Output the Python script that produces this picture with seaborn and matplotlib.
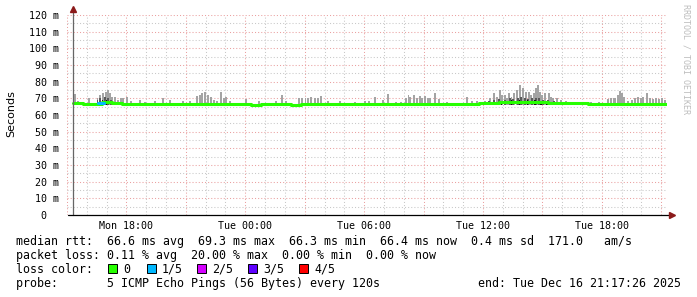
import numpy as np
import matplotlib
matplotlib.use("Agg")
import matplotlib.pyplot as plt
import seaborn as sns
from matplotlib.patches import Rectangle

# ---------------- data (hours since Mon 00:00) ----------------
t_start, t_end = 15.29, 45.29
median_hours = np.arange(15.29, 45.30, 0.5)
median_ms = [67.0, 66.6, 66.7, 67.8, 66.9, 66.5, 66.5, 66.4, 66.6, 66.5,
             66.6, 66.7, 66.6, 66.7, 66.6, 66.8, 66.6, 66.5, 66.3, 66.6,
             66.7, 66.6, 66.3, 66.6, 66.7, 66.6, 66.5, 66.6, 66.5, 66.6,
             66.5, 66.6, 66.5, 66.6, 66.7, 66.6, 66.7, 66.5, 66.6, 66.5,
             66.6, 66.9, 67.3, 67.6, 67.8, 67.7, 67.9, 67.6, 67.5, 67.2,
             67.0, 66.9, 66.8, 66.6, 66.5, 66.4, 66.5, 66.4, 66.5, 66.4, 66.4]

loss_hours = [16.55, 16.85]
loss_ms = [67.2, 67.2]

spike_hours = [15.39, 15.54, 16.09, 16.54, 16.69, 16.84, 16.99, 17.09, 17.19, 17.29,
               17.44, 17.59, 17.74, 17.84, 18.04, 18.24, 18.69, 18.94, 19.44, 19.84,
               20.19, 20.84, 21.19, 21.54, 21.69, 21.84, 21.99, 22.14, 22.29, 22.44,
               22.59, 22.79, 22.94, 23.04, 23.24, 24.04, 24.69, 25.54, 25.84, 26.04,
               26.69, 26.84, 27.04, 27.19, 27.34, 27.54, 27.69, 27.84, 28.19, 28.79,
               29.54, 30.04, 30.24, 30.54, 30.94, 31.19, 31.59, 31.84, 32.09, 32.24,
               32.34, 32.54, 32.69, 32.84, 32.94, 33.09, 33.24, 33.34, 33.59, 33.79,
               34.19, 35.19, 35.44, 35.69, 36.09, 36.34, 36.54, 36.69, 36.84, 36.94,
               37.09, 37.19, 37.29, 37.44, 37.59, 37.74, 37.89, 38.04, 38.19, 38.34,
               38.44, 38.59, 38.69, 38.79, 38.89, 38.99, 39.14, 39.34, 39.44, 39.54,
               39.74, 39.94, 40.19, 40.54, 40.94, 41.44, 41.84, 42.29, 42.44, 42.59,
               42.69, 42.84, 42.94, 43.04, 43.14, 43.34, 43.54, 43.69, 43.84, 43.99,
               44.09, 44.29, 44.44, 44.59, 44.74, 44.89, 45.04, 45.19]
spike_ms = [72.4, 68.5, 70.0, 70.5, 72.0, 73.0, 74.0, 75.0, 73.0, 71.0,
            71.0, 69.0, 70.0, 70.0, 71.0, 68.5, 69.0, 68.0, 68.5, 70.0,
            69.0, 68.5, 68.3, 71.5, 72.0, 73.0, 74.0, 72.0, 71.0, 69.0,
            68.5, 74.0, 70.0, 71.0, 68.5, 69.6, 68.5, 68.5, 72.0, 68.5,
            70.0, 70.0, 70.5, 70.5, 71.0, 70.0, 70.5, 71.5, 68.5, 68.5,
            68.0, 68.5, 68.5, 70.6, 69.0, 72.6, 68.0, 68.0, 70.0, 72.0,
            71.0, 72.0, 70.5, 71.5, 70.0, 71.4, 70.0, 70.5, 73.0, 69.5,
            68.0, 70.6, 68.5, 68.5, 68.5, 70.5, 73.0, 71.0, 75.0, 72.0,
            72.0, 70.0, 73.0, 71.0, 73.0, 75.0, 78.0, 76.0, 74.0, 74.0,
            72.0, 73.0, 76.0, 78.0, 74.0, 72.0, 73.0, 73.0, 71.0, 70.0,
            70.0, 69.0, 68.5, 68.0, 68.0, 68.0, 68.0, 69.4, 70.5, 70.0,
            70.5, 72.0, 74.5, 73.4, 71.0, 68.5, 69.0, 70.5, 71.0, 70.5,
            71.0, 73.4, 70.0, 69.5, 70.0, 69.4, 70.0, 69.0]

dark_hours = [16.54, 16.69, 16.94, 17.09, 17.24, 36.29, 36.54, 36.79, 37.09, 37.34,
              37.54, 37.79, 37.94, 38.14, 38.29, 38.49, 38.69, 38.84, 39.04, 39.29, 39.59]
dark_ms = [69.0, 70.0, 71.0, 70.5, 69.0, 68.5, 69.0, 69.5, 69.0, 70.0,
           69.5, 70.0, 71.0, 70.0, 69.5, 70.0, 70.5, 70.0, 69.0, 69.0, 68.5]

black_hours = [16.79, 16.99, 36.94, 37.44, 37.84, 38.24, 38.64, 38.94, 39.24]
black_ms = [68.8, 69.0, 68.6, 68.8, 69.0, 68.7, 69.0, 68.6, 68.4]

x_ticks_major = [18, 24, 30, 36, 42]
x_tick_labels = ["Mon 18:00", "Tue 00:00", "Tue 06:00", "Tue 12:00", "Tue 18:00"]
y_ticks = [0, 10, 20, 30, 40, 50, 60, 70, 80, 90, 100, 110, 120]
y_tick_labels = ["0  ", "10 m", "20 m", "30 m", "40 m", "50 m", "60 m", "70 m",
                 "80 m", "90 m", "100 m", "110 m", "120 m"]

loss_labels = ["0", "1/5", "2/5", "3/5", "4/5"]
loss_colors = ["#26ff00", "#00b8ff", "#d400ff", "#5e00ff", "#ff0000"]

# ---------------- figure ----------------
sns.set_style("white")
plt.rcParams['font.family'] = ['DejaVu Sans Mono', 'DejaVu Sans']
W, H = 697, 297
fig = plt.figure(figsize=(W / 100, H / 100), dpi=100)
fig.patch.set_facecolor("white")
L, R, T, B = 67, 667, 15, 215
ax = fig.add_axes([L / W, 1 - B / H, (R - L) / W, (B - T) / H])
ax.set_facecolor("white")
ax.set_xlim(t_start, t_end)
ax.set_ylim(0, 120)

# grid
ax.set_xticks(np.arange(18 - 3, 46, 3))
ax.set_xticks(np.arange(16, 46, 1), minor=True)
ax.set_yticks(y_ticks)
ax.set_yticks(np.arange(5, 120, 10), minor=True)
ax.grid(which='major', color='#eaa0a0', linestyle=(0, (1, 2)), linewidth=0.75)
ax.grid(which='minor', color='#c8c8c8', linestyle=(0, (1, 2)), linewidth=0.75)
ax.set_axisbelow(True)

xlabels = []
for v in np.arange(18 - 3, 46, 3):
    xlabels.append(x_tick_labels[x_ticks_major.index(v)] if v in x_ticks_major else "")
ax.set_xticklabels(xlabels, fontsize=7.2, color='#000000')
ax.set_yticklabels(y_tick_labels, fontsize=7.2, color='#000000')
ax.tick_params(axis='both', which='both', length=2, width=0.7, color='#444444')
ax.tick_params(axis='y', pad=3.6)
ax.tick_params(axis='x', pad=2.0)
for s in ax.spines.values():
    s.set_visible(False)

# smoke
base = 66.3
ax.bar(spike_hours, np.array(spike_ms) - base, bottom=base, width=0.1,
       color='#a4a4a4', linewidth=0, zorder=2, align='center')
ax.bar(dark_hours, np.array(dark_ms) - base, bottom=base, width=0.1,
       color='#5a5a5a', linewidth=0, zorder=3)
ax.bar(black_hours, np.array(black_ms) - base, bottom=base, width=0.08,
       color='#111111', linewidth=0, zorder=3.5)

# median rtt line coloured by loss
sns.lineplot(x=median_hours, y=median_ms, ax=ax, color=loss_colors[0],
             linewidth=2.2, drawstyle='steps-post', zorder=4)
sns.lineplot(x=loss_hours, y=loss_ms, ax=ax, color=loss_colors[1],
             linewidth=2.2, zorder=5)

# axes lines with arrows
ax.plot([t_start, t_start], [0, 123], color='#666666', lw=0.9, clip_on=False, zorder=6)
ax.plot([t_start - 0.25, t_end + 0.2], [0, 0], color='#000000', lw=0.9, clip_on=False, zorder=6)
ax.plot([t_start], [123.5], marker='^', color='#8b1a1a', markersize=4, clip_on=False, zorder=7)
ax.plot([t_end + 0.25], [0], marker='>', color='#8b1a1a', markersize=4, clip_on=False, zorder=7)

# axis label & watermark
fig.text(11 / W, 1 - 114 / H, "Seconds", rotation=90, ha='center', va='center',
         fontsize=8.0, color='#000000', family='DejaVu Sans')
fig.text(686 / W, 1 - 59 / H, "RRDTOOL / TOBI OETIKER", rotation=270, ha='center',
         va='center', fontsize=6.0, color='#bdbdbd')

# legend text
fs = 8.4
def ftext(x, y, s, **kw):
    fig.text(x / W, 1 - y / H, s, ha='left', va='center', fontsize=fs, color='#000000', **kw)

ftext(16, 241.5, "median rtt:  66.6 ms avg  69.3 ms max  66.3 ms min  66.4 ms now  0.4 ms sd  171.0   am/s")
ftext(16, 255.5, "packet loss: 0.11 % avg  20.00 % max  0.00 % min  0.00 % now")
ftext(16, 269.5, "loss color:")
sw_x = [108, 147, 197, 248, 299]
for x0, lab, col in zip(sw_x, loss_labels, loss_colors):
    fig.add_artist(Rectangle((x0 / W, (H - 273) / H), 9 / W, 9 / H, transform=fig.transFigure,
                             facecolor=col, edgecolor='#000000', linewidth=0.7))
    ftext(x0 + 15, 269.5, lab)
ftext(16, 283.5, "probe:       5 ICMP Echo Pings (56 Bytes) every 120s")
ftext(478, 283.5, "end: Tue Dec 16 21:17:26 2025")

fig.savefig("out.png", dpi=100, facecolor="white")
